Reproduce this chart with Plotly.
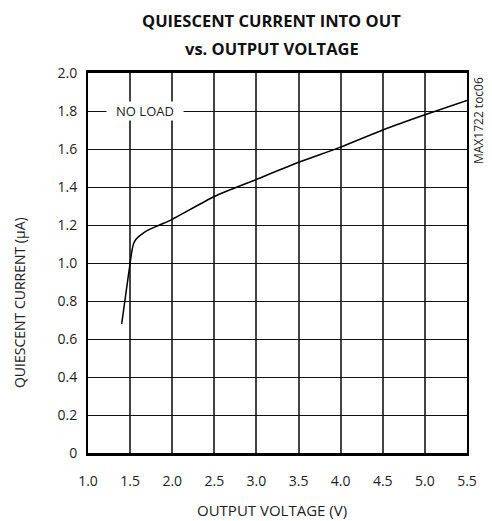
import plotly.graph_objects as go

voltage = [1.40, 1.45, 1.50, 1.52, 1.54, 1.57, 1.62, 1.70, 1.85, 2.0, 2.5, 3.0, 3.5, 4.0, 4.5, 5.0, 5.5]
current = [0.68, 0.84, 1.00, 1.06, 1.10, 1.125, 1.145, 1.17, 1.20, 1.23, 1.35, 1.44, 1.53, 1.61, 1.70, 1.78, 1.855]

x_ticks = [1.0, 1.5, 2.0, 2.5, 3.0, 3.5, 4.0, 4.5, 5.0, 5.5]
x_labels = ["1.0", "1.5", "2.0", "2.5", "3.0", "3.5", "4.0", "4.5", "5.0", "5.5"]
y_ticks = [0, 0.2, 0.4, 0.6, 0.8, 1.0, 1.2, 1.4, 1.6, 1.8, 2.0]
y_labels = ["0", "0.2", "0.4", "0.6", "0.8", "1.0", "1.2", "1.4", "1.6", "1.8", "2.0"]

font = "'Open Sans', sans-serif"

fig = go.Figure()
fig.add_trace(go.Scatter(x=voltage, y=current, mode="lines",
                         line=dict(color="black", width=1.5, shape="spline", smoothing=0.6),
                         showlegend=False, hoverinfo="skip"))

fig.update_layout(
    width=484, height=513,
    margin=dict(l=80, r=25, t=65, b=68, autoexpand=False),
    paper_bgcolor="white", plot_bgcolor="white",
    font=dict(family=font, size=14, color="#222"),
    xaxis=dict(range=[1.0, 5.5], tickvals=x_ticks, ticktext=x_labels,
               showgrid=True, gridcolor="#444", gridwidth=1.8,
               showline=True, linecolor="black", linewidth=3, mirror=True,
               ticks="", ticklabelstandoff=13, zeroline=False),
    yaxis=dict(range=[0, 2.0], tickvals=y_ticks, ticktext=y_labels,
               showgrid=True, gridcolor="#111", gridwidth=1.3,
               showline=True, linecolor="black", linewidth=2, mirror=True,
               ticks="", ticklabelstandoff=6, zeroline=False),
)

fig.add_annotation(text="<b>QUIESCENT CURRENT INTO OUT</b>", xref="paper", yref="paper",
                   x=0.485, y=1.137, showarrow=False, xanchor="center", yanchor="middle",
                   font=dict(family=font, size=16.5, color="#111"))
fig.add_annotation(text="<b>vs. OUTPUT VOLTAGE</b>", xref="paper", yref="paper",
                   x=0.485, y=1.064, showarrow=False, xanchor="center", yanchor="middle",
                   font=dict(family=font, size=16.5, color="#111"))
fig.add_annotation(text="OUTPUT VOLTAGE (V)", xref="paper", yref="paper",
                   x=0.485, y=-0.15, showarrow=False, xanchor="center", yanchor="middle",
                   font=dict(size=15, color="#222"))
fig.add_annotation(text="NO LOAD", xref="x", yref="y", x=1.68, y=1.8,
                   showarrow=False, bgcolor="white", width=76, height=18, borderpad=0,
                   font=dict(size=13, color="#222"))
fig.add_annotation(text="QUIESCENT CURRENT (µA)", xref="paper", yref="paper",
                   x=-0.179, y=0.395, textangle=-90, showarrow=False,
                   xanchor="center", yanchor="middle",
                   font=dict(size=14, color="#222"))
fig.add_annotation(text="MAX1722 toc06", xref="paper", yref="paper",
                   x=1.032, y=0.874, textangle=-90, showarrow=False,
                   xanchor="center", yanchor="middle",
                   font=dict(size=12, color="#222"))

fig.write_html("out.html")
